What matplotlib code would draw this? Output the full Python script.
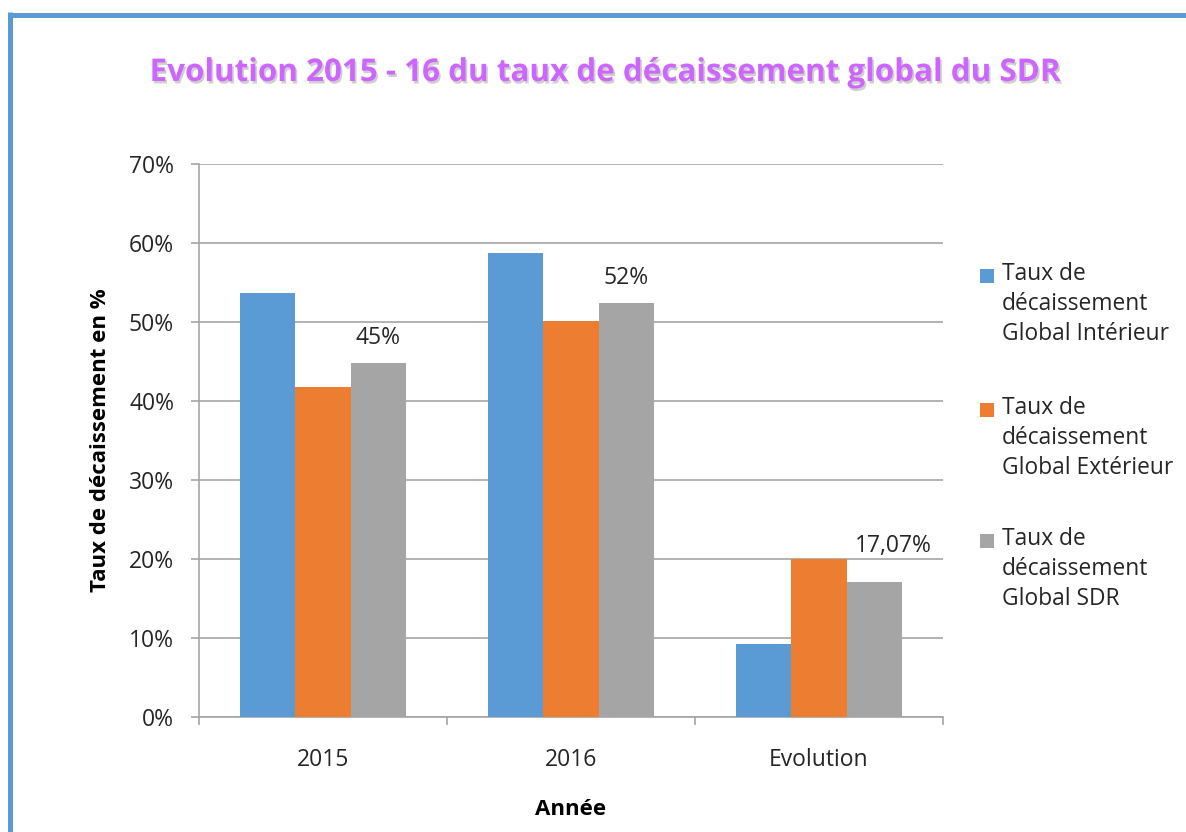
import matplotlib

matplotlib.use("Agg")

import matplotlib.pyplot as plt
import matplotlib.patheffects as pe
import numpy as np
from matplotlib.lines import Line2D
from matplotlib.patches import Rectangle

categories = ["2015", "2016", "Evolution"]
series_names = [
    "Taux de\ndécaissement\nGlobal Intérieur",
    "Taux de\ndécaissement\nGlobal Extérieur",
    "Taux de\ndécaissement\nGlobal SDR",
]
interieur = [53.7, 58.7, 9.2]
exterieur = [41.8, 50.1, 20.0]
sdr = [44.8, 52.4, 17.07]
sdr_labels = ["45%", "52%", "17,07%"]
y_ticks = [0, 10, 20, 30, 40, 50, 60, 70]

colors = ["#5B9BD5", "#ED7D31", "#A5A5A5"]
grid_c = "#A6A6A6"
text_c = "#262626"
W, H = 1186, 832

plt.rcParams["font.family"] = ["Open Sans", "DejaVu Sans"]

fig = plt.figure(figsize=(W / 100, H / 100), dpi=100)
fig.patch.set_facecolor("white")

# blue frame (top and left edges)
fig.add_artist(Line2D([8 / W, 1.0], [1 - 14.5 / H] * 2, color="#5B9BD5", lw=3.6,
                      solid_capstyle="butt", transform=fig.transFigure))
fig.add_artist(Line2D([9.5 / W] * 2, [0.0, 1 - 12 / H], color="#5B9BD5", lw=3.6,
                      solid_capstyle="butt", transform=fig.transFigure))

ax = fig.add_axes([199 / W, 1 - 717 / H, (943 - 199) / W, (717 - 164) / H])

x = np.arange(len(categories))
w = 0.222
series = [interieur, exterieur, sdr]
for i, (vals, c, name) in enumerate(zip(series, colors, series_names)):
    ax.bar(x + (i - 1) * w, vals, w, color=c, label=name, zorder=3)

# data labels on the SDR series (the last one was moved a bit in the original)
for xi, v, lab in zip(x, sdr, sdr_labels):
    dx, dy = (14, 22) if "," in lab else (0, 14)
    ax.annotate(lab, (xi + w, v), xytext=(dx, dy), textcoords="offset points",
                ha="center", va="baseline", fontsize=16.5, color=text_c)

ax.set_xlim(-0.5, len(categories) - 0.5)
ax.set_ylim(0, 70)
ax.set_yticks(y_ticks)
ax.set_yticklabels([f"{t}%" for t in y_ticks])
ax.yaxis.grid(True, color=grid_c, lw=1.2, zorder=0)

ax.set_xticks(x)
ax.set_xticklabels(categories)
ax.set_xticks(np.arange(len(categories) + 1) - 0.5, minor=True)
ax.tick_params(axis="x", which="major", length=0, pad=22, labelsize=16.5, labelcolor=text_c)
ax.tick_params(axis="x", which="minor", length=6, width=1.2, color=grid_c, direction="out")
ax.tick_params(axis="y", length=6, width=1.2, color=grid_c, pad=12, labelsize=16.5,
               labelcolor=text_c)

for s in ["top", "right"]:
    ax.spines[s].set_visible(False)
for s in ["left", "bottom"]:
    ax.spines[s].set_color(grid_c)
    ax.spines[s].set_linewidth(1.2)

ax.set_ylabel("Taux de décaissement en %", fontsize=16, fontweight="bold",
              color="black", labelpad=13)
ax.set_xlabel("Année", fontsize=16, fontweight="bold", color="black", labelpad=20)

# legend, marker next to the first line of each entry
leg_tops = [262, 396, 527]
for top, c, name in zip(leg_tops, colors, series_names):
    fig.add_artist(Rectangle((980 / W, 1 - (top + 21) / H), 14 / W, 14 / H,
                             facecolor=c, edgecolor="none", transform=fig.transFigure))
    fig.text(1002 / W, 1 - top / H, name, ha="left", va="top", fontsize=16.4,
             color=text_c, linespacing=1.32)

fig.text(605 / W, 1 - 73 / H, "Evolution 2015 - 16 du taux de décaissement global du SDR",
         ha="center", va="center", fontsize=22.6, fontweight="bold", color="#CC66FF",
         path_effects=[pe.withSimplePatchShadow(offset=(1.2, -1.8), shadow_rgbFace="#A0A0A0",
                                                alpha=0.5)])

fig.savefig("out.png", dpi=100, facecolor=fig.get_facecolor())
